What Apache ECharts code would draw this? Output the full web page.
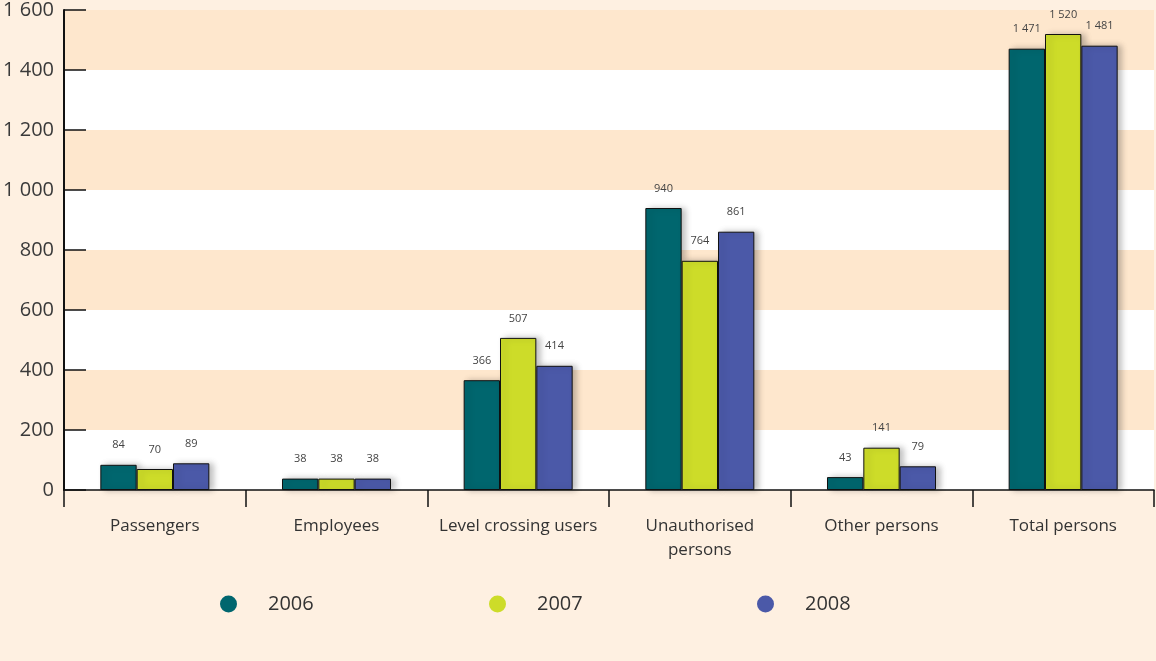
<!DOCTYPE html>
<html><head><meta charset="utf-8">
<script src="https://cdn.jsdelivr.net/npm/echarts@6/dist/echarts.min.js"></script>
<style>html,body{margin:0;padding:0;background:#fef0e1;}#c{width:1156px;height:661px;}</style>
</head><body><div id="c"></div>
<script>
const categories = ['Passengers','Employees','Level crossing users','Unauthorised\npersons','Other persons','Total persons'];
const years = ['2006','2007','2008'];
const v2006 = [84, 38, 366, 940, 43, 1471];
const v2007 = [70, 38, 507, 764, 141, 1520];
const v2008 = [89, 38, 414, 861, 79, 1481];
const colors = ['#00666e','#cddc29','#4b59a8'];

const fmt = v => String(v).replace(/\B(?=(\d{3})+(?!\d))/g,' ');
const font = 'Open Sans';
const chart = echarts.init(document.getElementById('c'));
const seriesData = [v2006, v2007, v2008];
chart.setOption({
  backgroundColor:'#fef0e1',
  animation:false,
  textStyle:{fontFamily:font},
  grid:{left:64,right:2,top:10,bottom:171},
  legend: years.map((y,i)=>({
    data:[y], left:[215,484,752][i], top:589, icon:'circle', itemWidth:17, itemHeight:17,
    itemGap:0, itemStyle:{borderWidth:0, shadowBlur:0, shadowOffsetX:0},
    textStyle:{fontSize:20, color:'#333', fontFamily:font, padding:[0,0,0,26]}
  })),
  xAxis:{type:'category', data:categories,
    axisLine:{lineStyle:{color:'#111', width:1.5}},
    axisTick:{show:true, length:17, lineStyle:{color:'#111', width:1.5}},
    axisLabel:{interval:0, fontSize:17, color:'#333', margin:24, lineHeight:24, fontFamily:font}},
  yAxis:{type:'value', min:0, max:1600, interval:200,
    axisLine:{show:true, lineStyle:{color:'#111', width:2}},
    axisTick:{show:true, inside:true, length:22, lineStyle:{color:'#111', width:1.5}},
    axisLabel:{fontSize:20, color:'#3a3a3a', margin:10, fontFamily:font, formatter:v=>fmt(v)},
    splitLine:{show:false},
    splitArea:{show:true, areaStyle:{color:['#ffffff','#fee7cd']}}},
  series: years.map((y,i)=>({
    name:y, type:'bar', data:seriesData[i], barGap:'0%', barCategoryGap:'40%',
    itemStyle:{color:colors[i], borderColor:'#111', borderWidth:1,
      shadowColor:'rgba(0,0,0,0.25)', shadowBlur:6, shadowOffsetX:4, shadowOffsetY:0},
    label:{show:true, position:'top', distance:14, fontSize:11, color:'#444', fontFamily:font, formatter:p=>fmt(p.value)}
  }))
});
</script></body></html>
